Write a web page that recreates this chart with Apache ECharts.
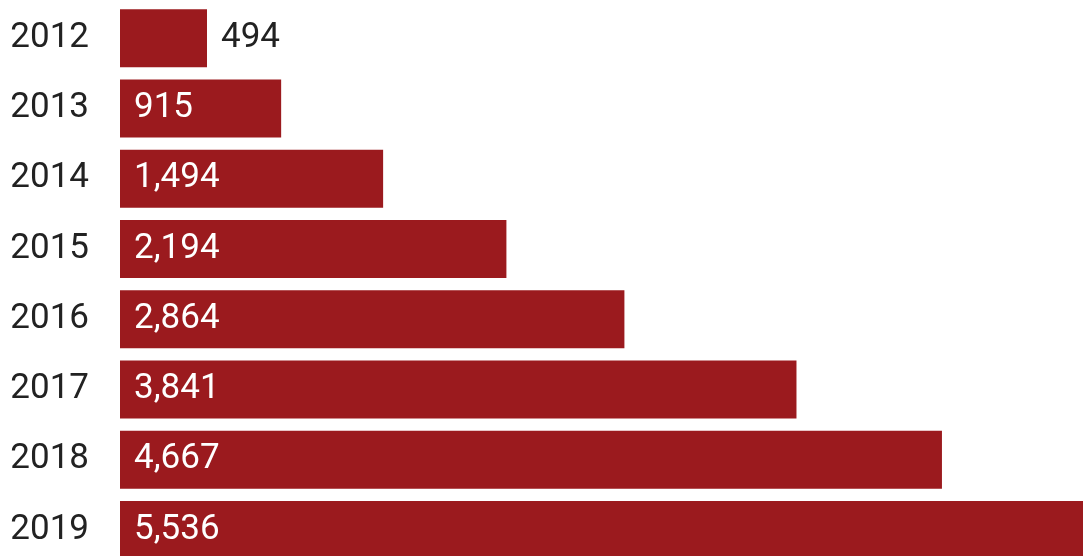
<!DOCTYPE html>
<html>
<head>
<meta charset="utf-8">
<script src="https://cdn.jsdelivr.net/npm/echarts@6/dist/echarts.min.js"></script>
<style>
html,body{margin:0;padding:0;background:#fff;}
#chart{width:1083px;height:556px;}
</style>
</head>
<body>
<div id="chart"></div>
<script>
const years = ['2012','2013','2014','2015','2016','2017','2018','2019'];
const values = [494, 915, 1494, 2194, 2864, 3841, 4667, 5536];

const chart = echarts.init(document.getElementById('chart'), null, {renderer:'canvas'});
const fmt = v => v.toLocaleString('en-US');
chart.setOption({
  animation: false,
  grid: {left: 120, top: 3, width: 975, height: 562, containLabel: false, outerBoundsMode: 'none'},
  xAxis: {type: 'value', min: 0, max: 5536, show: false},
  yAxis: {
    type: 'category', data: years, inverse: true,
    axisLine: {show: false}, axisTick: {show: false}, splitLine: {show: false},
    axisLabel: {fontFamily: 'Roboto', fontSize: 35, color: '#222', margin: 31}
  },
  series: [{
    type: 'bar',
    barWidth: 58,
    itemStyle: {color: '#9B1A1E'},
    data: values.map((v, i) => ({
      value: v,
      label: i === 0
        ? {show: true, position: 'right', distance: 14, color: '#222'}
        : {show: true, position: 'insideLeft', distance: 14, color: '#fff'}
    })),
    label: {fontFamily: 'Roboto', fontSize: 35, formatter: p => fmt(p.value)}
  }]
});
</script>
</body>
</html>
